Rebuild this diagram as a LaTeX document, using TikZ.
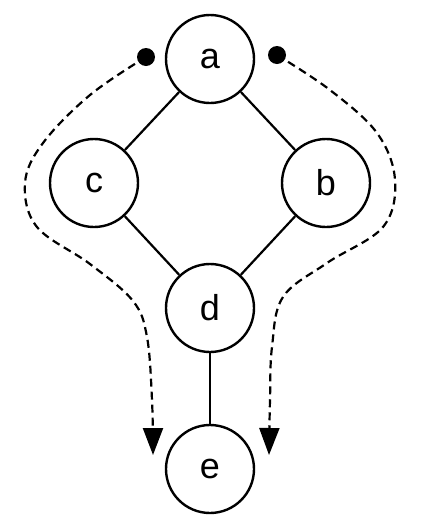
\documentclass[tikz,border=0pt]{standalone}
\usepackage{fontspec}
\setmainfont{Liberation Sans}
\usetikzlibrary{arrows.meta}

\tikzset{
  vertex/.style={circle, draw, line width=2.4pt, minimum size=88pt, inner sep=0pt, font=\fontsize{36}{42}\selectfont},
  edge/.style={line width=2.2pt},
  flow/.style={line width=2.2pt, dash pattern=on 8pt off 5pt, -{Triangle[length=27pt,width=20pt]}},
}

\begin{document}
\begin{tikzpicture}[x=1pt, y=-1pt]
            \useasboundingbox (0,0) rectangle (426,528);
            % vertices
            \node[vertex](a)at(210,59){a};
            \node[vertex](c)at(94,183){c};
            \node[vertex](b)at(326,183){b};
            \node[vertex](d)at(210,308){d};
            \node[vertex](e)at(210,469){e};
            % edges
            \path[draw, edge](a)to(c);
            \path[draw, edge](a)to(b);
            \path[draw, edge](c)to(d);
            \path[draw, edge](b)to(d);
            \path[draw, edge](d)to(e);
            % dashed flows
            \coordinate(ls)at(146,57);
            \coordinate(le)at(153,455);
            \coordinate(rs)at(277,55);
            \coordinate(re)at(269,455);
            \fill(ls)circle(9);
            \fill(rs)circle(9);
            \path[draw, flow]plot[smooth, tension=0.6]coordinates{(ls) (90,95) (43,143) (25,183) (37,227) (90,264) (133,301) (147,337) (152,400) (le)};
            \path[draw, flow]plot[smooth, tension=0.6]coordinates{(rs) (330,90) (377,133) (395,180) (383,227) (327,263) (283,297) (272,347) (270,400) (re)};
        \end{tikzpicture}
\end{document}
